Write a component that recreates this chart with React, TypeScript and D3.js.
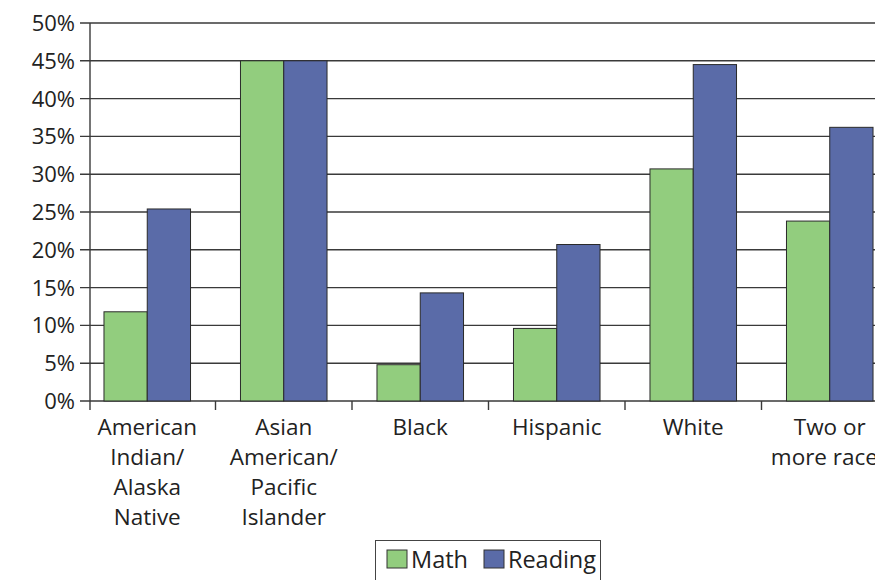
import React from "react";
import * as d3 from "d3";

const categories = [
  ["American", "Indian/", "Alaska", "Native"],
  ["Asian", "American/", "Pacific", "Islander"],
  ["Black"],
  ["Hispanic"],
  ["White"],
  ["Two or", "more races"],
];
const seriesNames = ["Math", "Reading"];
const mathValues = [11.8, 45, 4.8, 9.6, 30.7, 23.8];
const readingValues = [25.4, 45, 14.3, 20.7, 44.5, 36.2];
const yTicks = [0, 5, 10, 15, 20, 25, 30, 35, 40, 45, 50];
const colors = ["#92cd7e", "#5a6ba8"];

export default function App() {
  const W = 875, H = 580;
  const axisX = 90;
  const font = "'Open Sans', sans-serif";
  const keys = categories.map((_, i) => String(i));
  const x = d3.scaleBand<string>().domain(keys).range([79, 898]).paddingInner(0.366).paddingOuter(0.183);
  const xs = d3.scaleBand<string>().domain(seriesNames).range([0, x.bandwidth()]);
  const y = d3.scaleLinear().domain([0, 50]).range([401, 23]);
  const data = [mathValues, readingValues];
  const step = x.step();
  return (
    <svg width={W} height={H} style={{ position: "absolute", left: 0, top: 0 }} fontFamily={font}>
      <rect width={W} height={H} fill="#fff" />
      {yTicks.map((t) => (
        <g key={t}>
          <line x1={80} x2={W} y1={y(t)} y2={y(t)} stroke="#3a3a3a" strokeWidth={1.4} />
          <text x={75} y={y(t)} dy="0.36em" textAnchor="end" fontSize={22} fill="#222">
            {t}%
          </text>
        </g>
      ))}
      <line x1={axisX} x2={axisX} y1={y(50)} y2={y(0) + 9} stroke="#3a3a3a" strokeWidth={1.4} />
      {keys.slice(1).map((k) => {
        const bx = (x(k) as number) - (step - x.bandwidth()) / 2;
        return <line key={k} x1={bx} x2={bx} y1={y(0)} y2={y(0) + 9} stroke="#3a3a3a" strokeWidth={1.4} />;
      })}
      {keys.map((k, i) => (
        <g key={k}>
          {seriesNames.map((s, j) => (
            <rect
              key={s}
              x={(x(k) as number) + (xs(s) as number)}
              y={y(data[j][i])}
              width={xs.bandwidth()}
              height={y(0) - y(data[j][i])}
              fill={colors[j]}
              stroke="#2a2a2a"
              strokeWidth={1}
            />
          ))}
          <text textAnchor="middle" fontSize={22.5} fill="#222">
            {categories[i].map((line, li) => (
              <tspan key={li} x={(x(k) as number) + x.bandwidth() / 2} y={435 + li * 30}>
                {line}
              </tspan>
            ))}
          </text>
        </g>
      ))}
      <rect x={375.5} y={540.5} width={225} height={50} fill="#fff" stroke="#444" strokeWidth={1} />
      <rect x={387} y={550} width={20} height={18} fill={colors[0]} stroke="#333" strokeWidth={1} />
      <text x={411} y={568} fontSize={23.5} fill="#222">Math</text>
      <rect x={484} y={550} width={20} height={18} fill={colors[1]} stroke="#333" strokeWidth={1} />
      <text x={508} y={568} fontSize={23.5} fill="#222" textLength={88}>Reading</text>
    </svg>
  );
}
